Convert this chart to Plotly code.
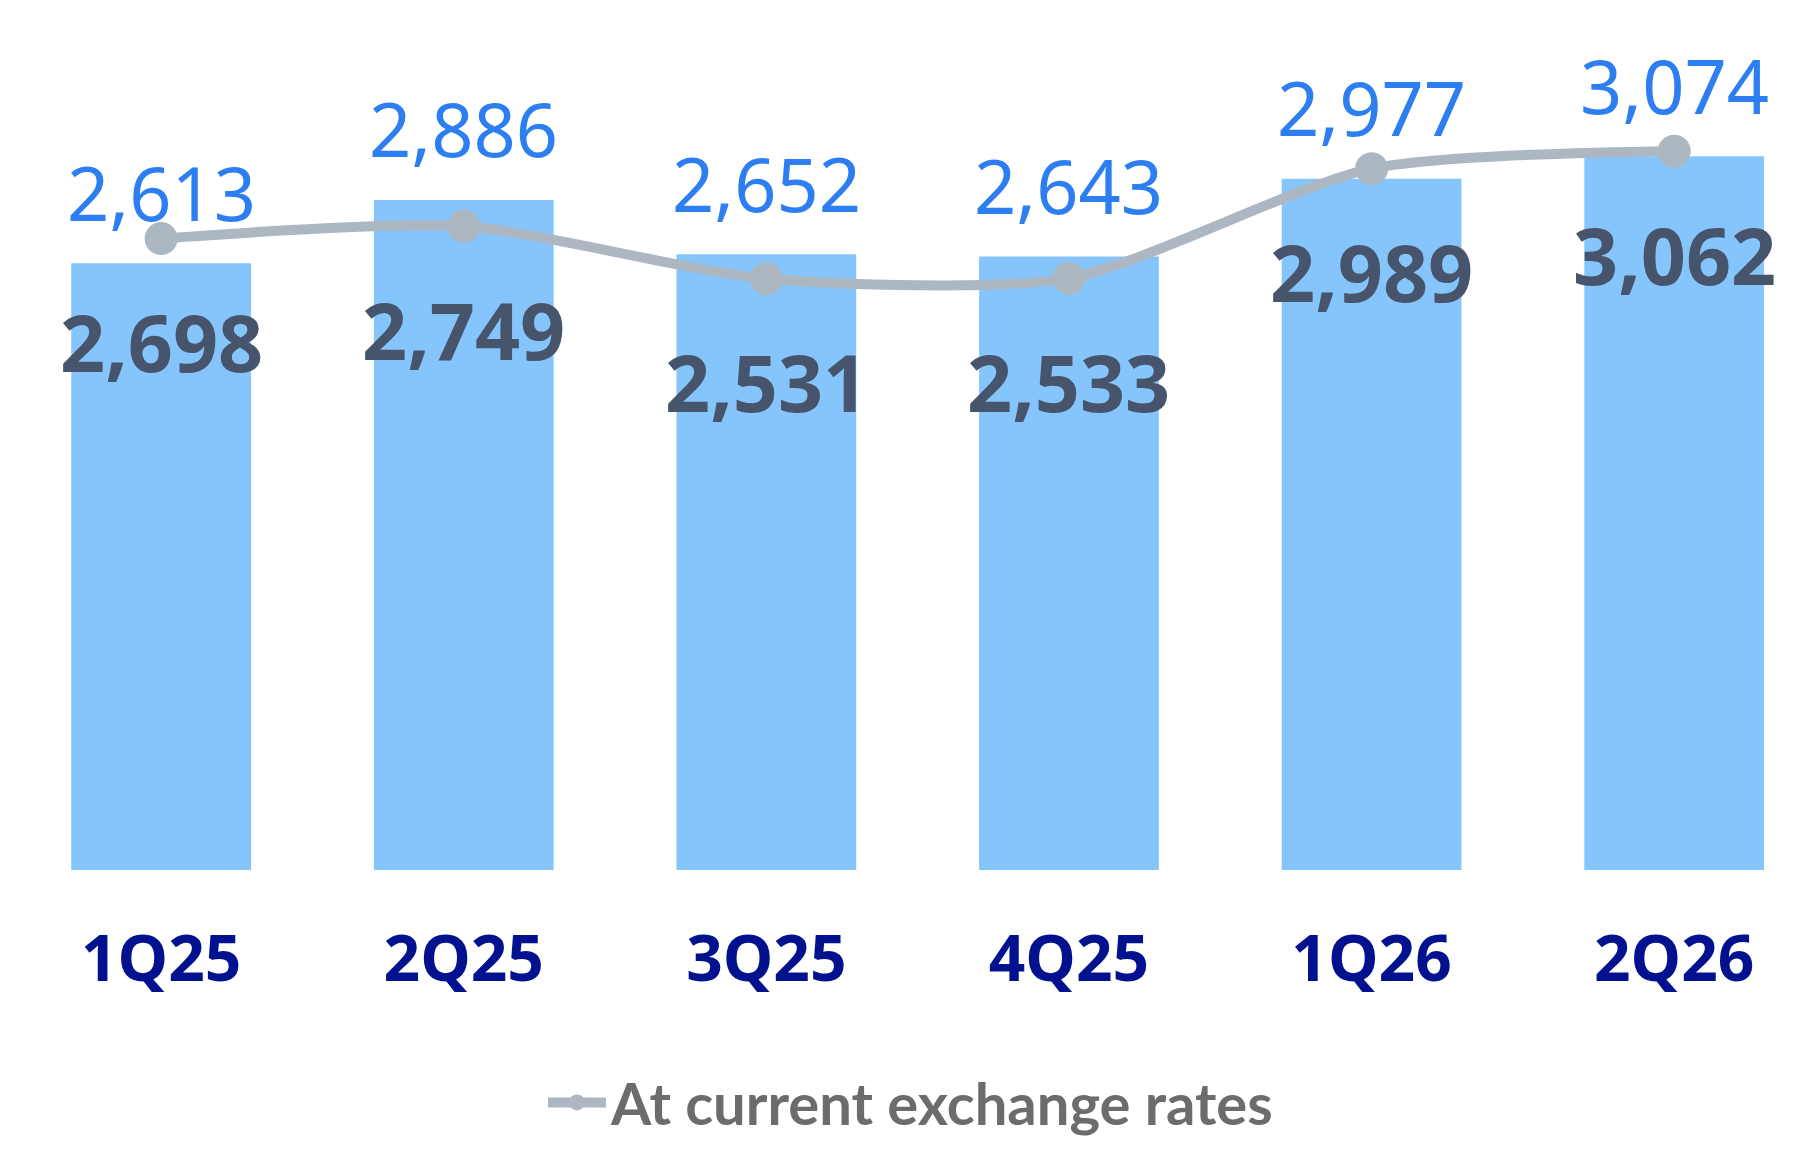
import plotly.graph_objects as go

# quarterly figures
quarters = ["1Q25", "2Q25", "3Q25", "4Q25", "1Q26", "2Q26"]
bar_values = [2613, 2886, 2652, 2643, 2977, 3074]
current_fx = [2698, 2749, 2531, 2533, 2989, 3062]

BAR_COLOR = "#86c5fc"
BLUE_TEXT = "#2d7ff1"
DARK_TEXT = "#46546c"
LINE_COLOR = "#adb7c1"
TICK_COLOR = "#02128f"


def fmt(v):
    return f"{v:,}"


fig = go.Figure()

fig.add_trace(go.Bar(
    x=quarters, y=bar_values,
    marker=dict(color=BAR_COLOR, line=dict(width=0)),
    showlegend=False, hoverinfo="x+y",
))

fig.add_trace(go.Scatter(
    x=quarters, y=current_fx, yaxis="y2",
    mode="lines+markers",
    name="At current exchange rates",
    line=dict(color=LINE_COLOR, width=10, shape="spline", smoothing=0.7),
    marker=dict(color=LINE_COLOR, size=33),
    cliponaxis=False,
))

# bar labels above the bars
for q, v in zip(quarters, bar_values):
    fig.add_annotation(
        x=q, y=v, yref="y", text=fmt(v), showarrow=False,
        yanchor="middle", yshift=71,
        font=dict(family="Noto Sans", size=74, color=BLUE_TEXT),
    )

# line labels below the markers
for q, v in zip(quarters, current_fx):
    fig.add_annotation(
        x=q, y=v, yref="y2", text=fmt(v), showarrow=False,
        yanchor="middle", yshift=-103,
        font=dict(family="Noto Sans", size=79, color=DARK_TEXT, weight=700),
    )

fig.update_layout(
    width=1806, height=1152,
    margin=dict(l=0, r=0, t=0, b=290),
    paper_bgcolor="white", plot_bgcolor="white",
    bargap=0.406,
    xaxis=dict(
        range=[-0.506, 5.462], showgrid=False, zeroline=False,
        showline=False, ticks="", ticklabelstandoff=46,
        tickfont=dict(family="Noto Sans", size=64, color=TICK_COLOR, weight=700),
    ),
    yaxis=dict(range=[0, 3713], visible=False, showgrid=False),
    yaxis2=dict(range=[69, 3658], overlaying="y", visible=False, showgrid=False),
    legend=dict(
        orientation="h", x=0.5, xanchor="center", y=-0.27, yanchor="middle",
        font=dict(family="Lato", size=58, color="#6c6c6c", weight=700),
        itemwidth=58,
    ),
)

fig.write_html("out.html")
